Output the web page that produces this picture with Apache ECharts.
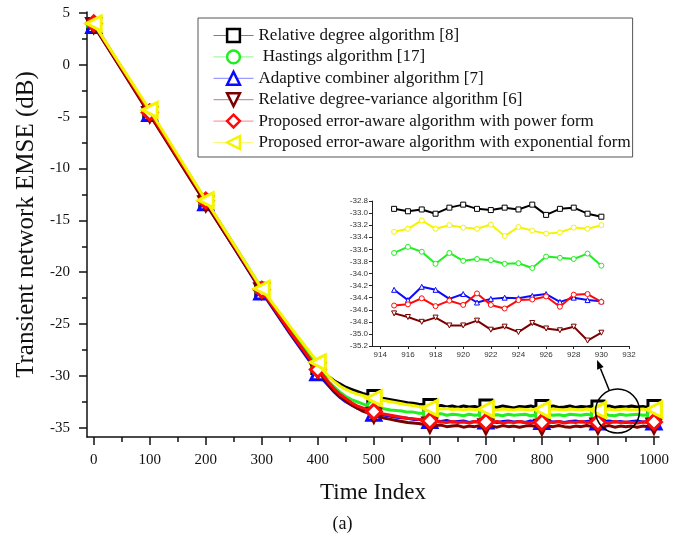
<!DOCTYPE html>
<html>
<head>
<meta charset="utf-8">
<script src="https://cdn.jsdelivr.net/npm/echarts@6/dist/echarts.min.js"></script>
<style>
  html, body { margin: 0; padding: 0; background: #fff; }
  #chart { width: 685px; height: 540px; }
</style>
</head>
<body>
<div id="chart"></div>
<script>
const seriesNames = [
  'Relative degree algorithm [8]',
  ' Hastings algorithm [17]',
  'Adaptive combiner algorithm [7]',
  'Relative degree-variance algorithm [6]',
  'Proposed error-aware algorithm with power form',
  'Proposed error-aware algorithm with exponential form'
];
const seriesColors = ['#000000', '#22ee22', '#0a0aff', '#7a0000', '#ff0a0a', '#f4f400'];

// time index samples (transient every 50, then every 10)
const timeIdx = [
  0, 50, 100, 150, 200, 250, 300, 350, 400,
  410, 420, 430, 440, 450, 460, 470, 480, 490, 500,
  510, 520, 530, 540, 550, 560, 570, 580, 590, 600,
  610, 620, 630, 640, 650, 660, 670, 680, 690, 700,
  710, 720, 730, 740, 750, 760, 770, 780, 790, 800,
  810, 820, 830, 840, 850, 860, 870, 880, 890, 900,
  910, 920, 930, 940, 950, 960, 970, 980, 990, 1000
];

const relDegree = [
  3.9, -0.3, -4.6, -8.9, -13.2, -17.4, -21.7, -25.6, -29.2,
  -29.7, -30.1, -30.5, -30.8, -31.1, -31.3, -31.5, -31.7, -31.85, -32.0,
  -32.1, -32.2, -32.3, -32.4, -32.5, -32.6, -32.65, -32.75, -32.8, -32.85,
  -32.95, -32.85, -33.0, -32.9, -33.05, -32.9, -33.0, -32.95, -33.1, -32.9,
  -33.0, -33.05, -32.9, -33.0, -33.1, -32.95, -33.0, -32.9, -33.05, -32.95,
  -33.0, -32.9, -33.05, -33.0, -32.9, -33.05, -32.95, -33.0, -32.9, -33.0,
  -32.95, -32.9, -33.05, -32.95, -33.0, -32.9, -33.0, -32.95, -33.05, -32.95
];
const hastings = [
  3.9, -0.3, -4.5, -8.8, -13.1, -17.3, -21.6, -25.5, -29.1,
  -29.9, -30.6, -31.1, -31.6, -32.0, -32.3, -32.5, -32.7, -32.9, -33.0,
  -33.1, -33.2, -33.3, -33.35, -33.4, -33.5, -33.5, -33.6, -33.6, -33.65,
  -33.7, -33.65, -33.8, -33.7, -33.75, -33.85, -33.7, -33.8, -33.75, -33.7,
  -33.8, -33.75, -33.85, -33.7, -33.8, -33.75, -33.7, -33.85, -33.75, -33.8,
  -33.7, -33.8, -33.75, -33.85, -33.7, -33.75, -33.8, -33.7, -33.8, -33.75,
  -33.65, -33.8, -33.85, -33.7, -33.8, -33.75, -33.7, -33.8, -33.75, -33.8
];
const adaptive = [
  3.8, -0.4, -4.7, -9.0, -13.3, -17.6, -21.9, -25.9, -29.7,
  -30.4, -31.0, -31.6, -32.1, -32.5, -32.8, -33.1, -33.3, -33.5, -33.6,
  -33.7, -33.8, -33.9, -34.0, -34.05, -34.1, -34.2, -34.2, -34.3, -34.3,
  -34.35, -34.4, -34.3, -34.45, -34.4, -34.35, -34.5, -34.4, -34.45, -34.35,
  -34.4, -34.5, -34.4, -34.35, -34.45, -34.4, -34.5, -34.35, -34.45, -34.4,
  -34.35, -34.45, -34.4, -34.5, -34.4, -34.35, -34.45, -34.4, -34.35, -34.45,
  -34.4, -34.35, -34.45, -34.4, -34.5, -34.4, -34.35, -34.45, -34.4, -34.45
];
const relDegVar = [
  3.8, -0.5, -4.8, -9.1, -13.4, -17.6, -21.8, -25.8, -29.5,
  -30.2, -30.9, -31.5, -32.0, -32.4, -32.8, -33.1, -33.4, -33.6, -33.8,
  -33.95, -34.1, -34.2, -34.3, -34.4, -34.5, -34.55, -34.6, -34.7, -34.75,
  -34.8, -34.75, -34.9, -34.85, -34.8, -34.95, -34.85, -34.9, -34.8, -34.9,
  -34.85, -34.95, -34.8, -34.9, -34.85, -34.95, -34.85, -34.8, -34.9, -34.95,
  -34.85, -34.9, -34.8, -34.9, -34.95, -34.85, -34.9, -34.8, -34.9, -34.85,
  -34.9, -34.8, -34.95, -34.85, -34.9, -34.85, -34.95, -34.85, -34.9, -34.85
];
const proposedPow = [
  4.0, -0.3, -4.6, -8.9, -13.1, -17.4, -21.7, -25.7, -29.4,
  -30.0, -30.7, -31.3, -31.8, -32.2, -32.6, -32.9, -33.1, -33.3, -33.45,
  -33.6, -33.7, -33.8, -33.9, -34.0, -34.1, -34.15, -34.2, -34.3, -34.35,
  -34.4, -34.45, -34.5, -34.4, -34.5, -34.45, -34.55, -34.4, -34.5, -34.45,
  -34.5, -34.4, -34.55, -34.45, -34.5, -34.4, -34.5, -34.55, -34.45, -34.5,
  -34.45, -34.5, -34.4, -34.55, -34.45, -34.5, -34.4, -34.5, -34.45, -34.5,
  -34.45, -34.55, -34.4, -34.5, -34.45, -34.5, -34.55, -34.45, -34.5, -34.45
];
const proposedExp = [
  4.0, -0.2, -4.35, -8.7, -13.05, -17.3, -21.6, -25.2, -28.7,
  -29.5, -30.1, -30.6, -31.0, -31.3, -31.55, -31.75, -31.9, -32.05, -32.15,
  -32.3, -32.4, -32.5, -32.6, -32.7, -32.8, -32.85, -32.95, -33.0, -33.1,
  -33.15, -33.2, -33.15, -33.25, -33.2, -33.3, -33.2, -33.25, -33.3, -33.2,
  -33.25, -33.3, -33.2, -33.25, -33.3, -33.2, -33.25, -33.3, -33.2, -33.25,
  -33.3, -33.2, -33.25, -33.3, -33.2, -33.25, -33.3, -33.2, -33.25, -33.3,
  -33.25, -33.2, -33.3, -33.25, -33.2, -33.3, -33.25, -33.2, -33.3, -33.25
];

// zoomed inset, time index 915..930
const insetIdx = [915, 916, 917, 918, 919, 920, 921, 922, 923, 924, 925, 926, 927, 928, 929, 930];
const insetRelDegree = [-32.93, -32.97, -32.94, -33.01, -32.91, -32.86, -32.93, -32.95, -32.91, -32.94, -32.86, -33.03, -32.93, -32.91, -33.01, -33.06];
const insetHastings = [-33.66, -33.56, -33.64, -33.84, -33.66, -33.79, -33.76, -33.78, -33.84, -33.83, -33.91, -33.72, -33.74, -33.76, -33.67, -33.87];
const insetAdaptive = [-34.27, -34.44, -34.22, -34.27, -34.42, -34.34, -34.48, -34.42, -34.40, -34.41, -34.37, -34.34, -34.47, -34.40, -34.44, -34.46];
const insetRelDegVar = [-34.66, -34.72, -34.80, -34.73, -34.86, -34.86, -34.78, -34.93, -34.88, -34.97, -34.82, -34.91, -34.94, -34.88, -35.11, -34.98];
const insetProposedPow = [-34.53, -34.51, -34.41, -34.54, -34.45, -34.52, -34.33, -34.52, -34.58, -34.44, -34.43, -34.38, -34.55, -34.35, -34.34, -34.47];
const insetProposedExp = [-33.31, -33.26, -33.12, -33.26, -33.20, -33.24, -33.26, -33.19, -33.38, -33.23, -33.29, -33.34, -33.32, -33.24, -33.26, -33.20];

// tick positions
const xTickLabels = [0, 100, 200, 300, 400, 500, 600, 700, 800, 900, 1000];
const xMinorTicks = [50, 150, 250, 350, 450, 550, 650, 750, 850, 950];
const yTickLabels = [-35, -30, -25, -20, -15, -10, -5, 0, 5];
const yMinorTicks = [-32.5, -27.5, -22.5, -17.5, -12.5, -7.5, -2.5, 2.5];
const insetXTicks = [914, 916, 918, 920, 922, 924, 926, 928, 930, 932];

const serif = 'Liberation Serif, Times New Roman, serif';
const sans = 'Liberation Sans, Arial, sans-serif';
const ink = '#111';

const triDown = 'path://M0,0L10,0L5,9Z';
const triLeft = 'path://M9,0L9,10L0,5Z';
const shapes = ['rect', 'circle', 'triangle', triDown, 'diamond', triLeft];
const sizes = [12, 13, 14, 14, 15, 15];
const insetShapes = ['rect', 'circle', 'triangle', triDown, 'circle', 'circle'];

const mainSets = [relDegree, hastings, adaptive, relDegVar, proposedPow, proposedExp];
const insetSets = [insetRelDegree, insetHastings, insetAdaptive, insetRelDegVar, insetProposedPow, insetProposedExp];

const chart = echarts.init(document.getElementById('chart'));

const mainSeries = mainSets.map((vals, k) => ({
  name: seriesNames[k],
  type: 'line',
  xAxisIndex: 0,
  yAxisIndex: 0,
  data: vals.map((v, i) => ({
    value: [timeIdx[i], v],
    symbol: timeIdx[i] % 100 === 0 ? shapes[k] : 'none'
  })),
  symbol: shapes[k],
  symbolSize: sizes[k],
  showAllSymbol: true,
  clip: false,
  silent: true,
  z: 2 + k,
  lineStyle: { color: seriesColors[k], width: 3 },
  itemStyle: { color: '#fff', borderColor: seriesColors[k], borderWidth: 3 },
  emphasis: { disabled: true }
}));

const insetSeries = insetSets.map((vals, k) => ({
  name: 'inset' + k,
  type: 'line',
  xAxisIndex: 2,
  yAxisIndex: 2,
  data: vals.map((v, i) => [insetIdx[i], v]),
  symbol: insetShapes[k],
  symbolSize: 5,
  showAllSymbol: true,
  silent: true,
  z: 10 + k,
  lineStyle: { color: seriesColors[k], width: 2 },
  itemStyle: { color: '#fff', borderColor: seriesColors[k], borderWidth: 1 },
  emphasis: { disabled: true }
}));

const axisLineStyle = { color: ink, width: 1.5 };

chart.setOption({
  animation: false,
  backgroundColor: '#fff',
  title: {
    text: '(a)',
    left: 'center',
    top: 510,
    textStyle: { fontFamily: serif, fontSize: 18, fontWeight: 'normal', color: ink }
  },
  legend: {
    orient: 'vertical',
    left: 198,
    top: 18,
    padding: [9, 2, 6, 15],
    itemGap: 4.4,
    itemWidth: 40,
    itemHeight: 16,
    borderColor: '#555',
    borderWidth: 1,
    backgroundColor: '#fff',
    selectedMode: false,
    textStyle: { fontFamily: serif, fontSize: 17, color: ink, lineHeight: 17 },
    data: seriesNames.map((n, k) => ({
      name: n,
      itemStyle: { color: '#fff', borderColor: seriesColors[k], borderWidth: 2.5 },
      lineStyle: { color: seriesColors[k], width: 1, opacity: 0.5 }
    }))
  },
  grid: [
    { left: 87, right: 26, top: 12, bottom: 103 },
    { left: 372, top: 201, width: 257, height: 145 }
  ],
  xAxis: [
    {
      gridIndex: 0, type: 'value', position: 'bottom', min: -12, max: 1009,
      axisLine: { onZero: false, lineStyle: axisLineStyle },
      axisTick: { customValues: xTickLabels, length: 8, lineStyle: axisLineStyle },
      axisLabel: { customValues: xTickLabels, margin: 16, fontFamily: serif, fontSize: 15, color: ink, formatter: v => String(v) },
      splitLine: { show: false },
      name: 'Time Index', nameLocation: 'middle', nameGap: 44,
      nameTextStyle: { fontFamily: serif, fontSize: 23, color: ink }
    },
    {
      gridIndex: 0, type: 'value', position: 'bottom', min: -12, max: 1009,
      axisLine: { show: false, onZero: false },
      axisTick: { customValues: xMinorTicks, length: 5, lineStyle: axisLineStyle },
      axisLabel: { show: false },
      splitLine: { show: false }
    },
    {
      gridIndex: 1, type: 'value', position: 'bottom', min: 913.4, max: 932,
      axisLine: { onZero: false, lineStyle: { color: '#222', width: 1 } },
      axisTick: { customValues: insetXTicks, length: 3, lineStyle: { color: '#222' } },
      axisLabel: { customValues: insetXTicks, margin: 5, fontFamily: sans, fontSize: 8, color: '#333' },
      splitLine: { show: false }
    }
  ],
  yAxis: [
    {
      gridIndex: 0, type: 'value', position: 'left', min: -35.9, max: 5.1,
      axisLine: { show: true, onZero: false, lineStyle: axisLineStyle },
      axisTick: { show: true, customValues: yTickLabels, length: 8, lineStyle: axisLineStyle },
      axisLabel: { customValues: yTickLabels, margin: 17, fontFamily: serif, fontSize: 15, color: ink },
      splitLine: { show: false },
      name: 'Transient network EMSE (dB)', nameLocation: 'middle', nameGap: 48,
      nameTextStyle: { fontFamily: serif, fontSize: 25, color: ink }
    },
    {
      gridIndex: 0, type: 'value', position: 'left', min: -35.9, max: 5.1,
      axisLine: { show: false, onZero: false },
      axisTick: { show: true, customValues: yMinorTicks, length: 5, lineStyle: axisLineStyle },
      axisLabel: { show: false },
      splitLine: { show: false }
    },
    {
      gridIndex: 1, type: 'value', position: 'left', min: -35.2, max: -32.8, interval: 0.2,
      axisLine: { show: true, onZero: false, lineStyle: { color: '#222', width: 1 } },
      axisTick: { show: true, length: 3, lineStyle: { color: '#222' } },
      axisLabel: { margin: 4, fontFamily: sans, fontSize: 8, color: '#333', formatter: v => v.toFixed(1) },
      splitLine: { show: false }
    }
  ],
  series: mainSeries.concat(insetSeries)
});

// circle + arrow pointing from the zoomed region to the inset
const c = chart.convertToPixel({ xAxisIndex: 0, yAxisIndex: 0 }, [935, -33.4]);
chart.setOption({
  graphic: [
    {
      type: 'circle', z: 100, silent: true,
      shape: { cx: c[0], cy: c[1], r: 22 },
      style: { fill: 'none', stroke: '#000', lineWidth: 1.5 }
    },
    {
      type: 'line', z: 100, silent: true,
      shape: { x1: c[0] - 8, y1: c[1] - 20, x2: c[0] - 17.1, y2: c[1] - 42.6 },
      style: { stroke: '#000', lineWidth: 1.5 }
    },
    {
      type: 'polygon', z: 100, silent: true,
      shape: { points: [[c[0] - 20.5, c[1] - 51], [c[0] - 13.9, c[1] - 44], [c[0] - 20.4, c[1] - 41.3]] },
      style: { fill: '#000' }
    }
  ]
});
</script>
</body>
</html>
